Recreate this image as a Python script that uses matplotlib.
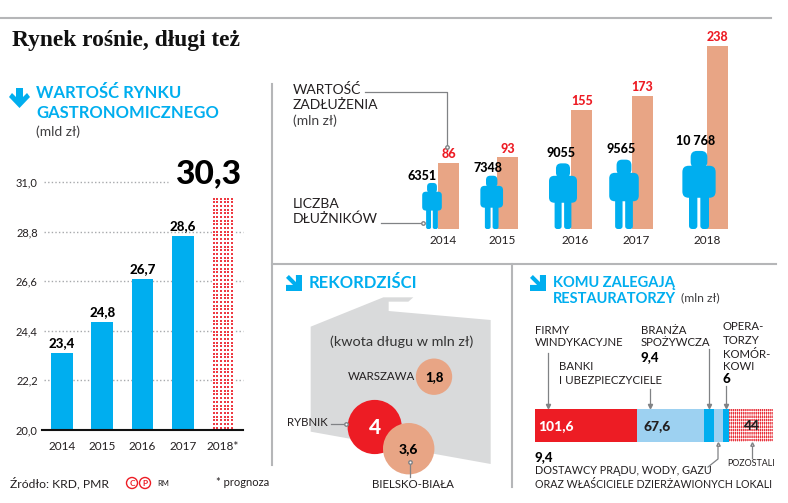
import matplotlib
matplotlib.use("Agg")
import matplotlib.pyplot as plt
from matplotlib.patches import Circle, FancyBboxPatch, Polygon
import numpy as np

W, H = 788, 503

# wartosc rynku
market_years = ["2014", "2015", "2016", "2017", "2018*"]
market_values = [23.4, 24.8, 26.7, 28.6, 30.3]
market_labels = ["23,4", "24,8", "26,7", "28,6"]
market_ticks = [20.0, 22.2, 24.4, 26.6, 28.8, 31.0]
market_tick_labels = ["20,0", "22,2", "24,4", "26,6", "28,8", "31,0"]

# zadluzenie i dluznicy
debt_years = ["2014", "2015", "2016", "2017", "2018"]
debt_values = [86, 93, 155, 173, 238]
debtor_counts = [6351, 7348, 9055, 9565, 10768]
debtor_labels = ["6351", "7348", "9055", "9565", "10 768"]

# rekordzisci
record_names = ["WARSZAWA", "RYBNIK", "BIELSKO-BIAŁA"]
record_values = [1.8, 4, 3.6]
record_labels = ["1,8", "4", "3,6"]

# komu zalegaja
creditor_values = [101.6, 67.6, 9.4, 9.4, 6, 44]
creditor_labels = ["101,6", "67,6", "", "", "", "44"]

BLUE = "#00aeef"
LIGHT = "#9dd1f1"
RED = "#ed1c24"
PEACH = "#e8a585"
TXT = "#231f20"
GREY = "#808285"
RULE = "#b5b6b8"
FONT = "Lato"

plt.rcParams["font.family"] = [FONT, "DejaVu Sans"]
plt.rcParams["hatch.linewidth"] = 0.5

fig = plt.figure(figsize=(W / 100, H / 100), dpi=100)


def px_axes(x0, y0, x1, y1):
    # y0 = gora, y1 = dol, w pikselach obrazka
    ax = fig.add_axes([x0 / W, 1 - y1 / H, (x1 - x0) / W, (y1 - y0) / H])
    ax.patch.set_alpha(0)
    return ax


# lewy wykres
ax = px_axes(42, 182, 243, 430)
ax.set_xlim(-0.5, 4.5)
ax.set_ylim(20.0, 31.0)
for t in market_ticks[1:]:
    xmax = 0.625 if t == 31.0 else 1
    ax.axhline(t, xmin=0.01, xmax=xmax, color="#a7a9ac", lw=1, ls=(0, (1, 1.6)), zorder=1, clip_on=False)
for i, v in enumerate(market_values[:4]):
    ax.bar(i, v - 20, bottom=20, width=0.54, color=BLUE, zorder=2)
    ax.text(i, v + 0.18, market_labels[i], ha="center", va="bottom", fontsize=9.5, weight="black", color="black")
# prognoza: biale tlo i siatka czerwonych kropek
ax.bar(4, market_values[4] - 20, bottom=20, width=0.54, color="white", zorder=2)
dot_x = 4 + np.linspace(-0.23, 0.23, 6)
dot_y = np.arange(20.1, market_values[4], 0.164)
gx, gy = np.meshgrid(dot_x, dot_y)
ax.plot(gx.ravel(), gy.ravel(), ls="none", marker="s", ms=1.5, mew=0, color="#ee3a42", zorder=3)
ax.set_yticks(market_ticks, market_tick_labels)
ax.set_xticks(range(5), market_years)
ax.tick_params(length=0, labelsize=8, labelcolor=TXT)
ax.tick_params(axis="x", pad=8, labelsize=8.5)
ax.tick_params(axis="y", pad=3)
for s in ["top", "right", "left"]:
    ax.spines[s].set_visible(False)
ax.spines["bottom"].set_linewidth(1.5)
ax.spines["bottom"].set_color("#111111")
ax.spines["bottom"].set_zorder(5)

# zadluzenie (slupki)
debt_bar_x = [448.5, 507.7, 581.7, 642, 717.7]
ax2 = px_axes(270, 0, 788, 229)
ax2.set_xlim(270, 788)
ax2.set_ylim(0, 229 / 0.77)
ax2.axis("off")
ax2.bar(debt_bar_x, debt_values, width=21, color=PEACH)
for x, v in zip(debt_bar_x, debt_values):
    ax2.annotate(str(v), (x, v), xytext=(0, 2), textcoords="offset points", ha="center", va="bottom",
                 fontsize=9, weight="black", color=RED)

# pasek wierzycieli
ax3 = px_axes(535, 409, 773, 442)
ax3.set_xlim(0, sum(creditor_values))
ax3.set_ylim(0, 1)
ax3.axis("off")
seg_colors = [RED, LIGHT, BLUE, LIGHT, BLUE, "#e8303a"]
creditor_label_x = [21, 122, 0, 0, 0, 216]
left = 0
for i, v in enumerate(creditor_values):
    if i == 5:
        ax3.barh(0.5, v, left=left, height=1, facecolor=seg_colors[i], edgecolor="white",
                 hatch="||||||||-----", lw=0)
    else:
        ax3.barh(0.5, v, left=left, height=1, color=seg_colors[i])
    if creditor_labels[i]:
        ax3.text(creditor_label_x[i], 0.47, creditor_labels[i], ha="center", va="center", fontsize=10, weight="black",
                 color="white" if i == 0 else TXT)
    left += v

# warstwa w pikselach: linie, ikony, opisy
ov = px_axes(0, 0, W, H)
ov.set_xlim(0, W)
ov.set_ylim(H, 0)
ov.axis("off")


def label(x, y, s, size=8, weight="normal", color=TXT, ha="left", family=None):
    ov.text(x, y, s, fontsize=size, weight=weight, color=color, ha=ha, va="center", family=family, zorder=20)


def leader(xs, ys, marker=None):
    ov.plot(xs, ys, color=GREY, lw=0.9, zorder=15)
    if marker:
        ov.plot(xs[-1], ys[-1], marker=marker, ms=2.5, color=GREY, mfc="white", zorder=15)


def arrow(xs, ys):
    ov.plot(xs, ys, color=GREY, lw=0.9, zorder=15)
    ov.plot(xs[-1], ys[-1], marker="v", ms=3, color=GREY, zorder=15)


def corner_icon(x, y, s=16):
    pts = [(0, 0.18), (0.18, 0), (0.62, 0.44), (0.62, 0), (1, 0), (1, 1), (0, 1), (0, 0.62), (0.44, 0.62)]
    ov.add_patch(Polygon([(x + a * s, y + b * s) for a, b in pts], color=BLUE, lw=0))


# ramki
ov.plot([0, 771], [17.5, 17.5], color=RULE, lw=1.5)
ov.plot([272, 272], [84, 465], color=RULE, lw=1.5)
ov.plot([272, 776], [264, 264], color=RULE, lw=1.5)
ov.plot([512, 512], [264, 487], color=RULE, lw=1.5)

label(12, 40, "Rynek rośnie, długi też", 16.9, "bold", "#111111", family="Liberation Serif")

# lewy panel
arrow_pts = [(16, 88), (23, 88), (23, 97), (27, 93), (30, 97), (19.5, 108), (9, 97), (12, 93), (16, 97)]
ov.add_patch(Polygon(arrow_pts, color=BLUE, lw=0))
label(36, 93, "WARTOŚĆ RYNKU", 12, "bold", BLUE)
label(36, 113, "GASTRONOMICZNEGO", 12, "bold", BLUE)
label(36, 132, "(mld zł)", 10, color="#414042")
label(241, 174, "30,3", 24, "black", "black", ha="right")
label(10, 483, "Źródło: KRD, PMR", 8.7)
for cx, letter in [(132, "C"), (145, "P")]:
    ov.add_patch(Circle((cx, 483), 5.5, fill=False, ec=RED, lw=1))
    label(cx, 483, letter, 6, "bold", RED, ha="center")
label(157, 483, "RM", 5.5)
label(216, 483, "* prognoza", 8)

# ludziki
PERSON_SCALE = 0.00725
person_x = [432, 491.7, 563, 624, 699]
BASE = 229


def person(cx, count):
    h = count * PERSON_SCALE
    top = BASE - h
    parts = [(-0.107, 0.0, 0.214, 0.22, 0.08),
             (-0.213, 0.19, 0.426, 0.41, 0.08),
             (-0.128, 0.5, 0.107, 0.5, 0.04),
             (0.017, 0.5, 0.111, 0.5, 0.04)]
    for dx, dy, w, ph, r in parts:
        rr = r * h
        ov.add_patch(FancyBboxPatch((cx + dx * h + rr, top + dy * h + rr), w * h - 2 * rr, ph * h - 2 * rr,
                                    boxstyle=f"round,pad={rr}", fc=BLUE, ec="none", zorder=10))


for x, c in zip(person_x, debtor_counts):
    person(x, c)
count_x = [422, 488, 561, 621, 696]
count_y = [176, 168, 153, 149, 141]
for x, y, s in zip(count_x, count_y, debtor_labels):
    label(x, y, s, 9, "black", "black", ha="center")
year_x = [443, 502, 575, 636, 707]
for x, s in zip(year_x, debt_years):
    label(x, 241, s, 8.5, ha="center")
label(293, 89, "WARTOŚĆ", 10)
label(293, 105, "ZADŁUŻENIA", 10)
label(293, 121, "(mln zł)", 10, color="#414042")
label(293, 204, "LICZBA", 10)
label(293, 219, "DŁUŻNIKÓW", 10)
leader([365, 447, 447], [92, 92, 147], "o")
leader([381, 423], [223, 223], "o")

# rekordzisci
corner_icon(286, 275)
label(309, 283, "REKORDZIŚCI", 12, "bold", BLUE)
shape = [(122, 200), (340, 112), (430, 112), (415, 125), (356, 125), (356, 153), (662, 180), (662, 612), (122, 515)]
ov.add_patch(Polygon([(270 + a / 3, 260 + b / 3) for a, b in shape], color="#d9dadb", lw=0, zorder=1))
label(401.5, 342, "(kwota długu w mln zł)", 10.4, color="#333333", ha="center")
CIRCLE_SCALE = 13.55
circle_xy = [(434, 376.7), (374.7, 427), (408.7, 448.7)]
circle_col = [PEACH, RED, PEACH]
circle_size = [9.5, 15, 10]
for (x, y), v, col, s, size in zip(circle_xy, record_values, circle_col, record_labels, circle_size):
    ov.add_patch(Circle((x, y), CIRCLE_SCALE * v ** 0.5, fc=col, ec="none", zorder=5))
    label(x, y, s, size, "black", "white" if col == RED else "black", ha="center")
label(415, 377, record_names[0], 8.3, ha="right")
label(287, 423, record_names[1], 8.2)
label(413, 485, record_names[2], 8.3, ha="center")
leader([331, 346], [424, 424], "o")
leader([410, 410], [477, 462], "o")

# komu zalegaja
corner_icon(530, 275)
label(553, 283, "KOMU ZALEGAJĄ", 10.5, "bold", BLUE)
label(553, 299, "RESTAURATORZY", 10.5, "bold", BLUE)
label(681, 298, "(mln zł)", 8.8, color="#414042")
label(535, 330, "FIRMY", 8.2)
label(535, 343, "WINDYKACYJNE", 8.2)
label(559, 367, "BANKI", 8.2)
label(559, 380, "I UBEZPIECZYCIELE", 8.3)
label(641, 330, "BRANŻA", 8.2)
label(641, 343, "SPOŻYWCZA", 8.2)
label(641, 357, "9,4", 9.5, "black", "black")
label(723, 327, "OPERA-", 8.2)
label(723, 341, "TORZY", 8.2)
label(723, 354, "KOMÓR-", 8.2)
label(723, 367, "KOWI", 8.2)
label(723, 379, "6", 9.5, "black", "black")
label(535, 457, "9,4", 9.5, "black", "black")
label(535, 471, "DOSTAWCY PRĄDU, WODY, GAZU", 7.8)
label(535, 484, "ORAZ WŁAŚCICIELE DZIERŻAWIONYCH LOKALI", 7.7)
label(727, 463, "POZOSTALI", 6.4)
arrow([548, 548], [353, 406])
arrow([650, 650], [389, 406])
arrow([709, 709], [349, 406])
arrow([726, 726], [386, 406])
leader([708, 718, 718], [467, 459, 444], "^")
leader([752, 752], [458, 444], "^")

fig.savefig("out.png", dpi=100)
